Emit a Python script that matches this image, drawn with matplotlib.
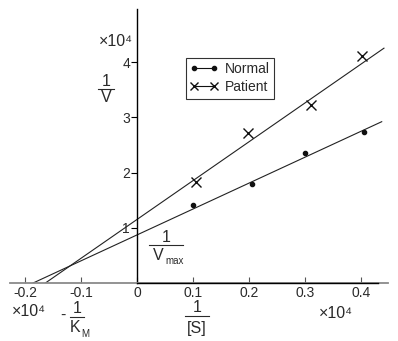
"""Lineweaver-Burk plot: 1/V against 1/[S] for normal and patient samples."""

import matplotlib
matplotlib.use("Agg")
import matplotlib.pyplot as plt
import numpy as np
from matplotlib.lines import Line2D

# data, in units of 1e4
inv_s_normal = [0.100, 0.205, 0.300, 0.405]
inv_v_normal = [1.41, 1.79, 2.35, 2.73]
inv_s_patient = [0.105, 0.198, 0.310, 0.401]
inv_v_patient = [1.82, 2.71, 3.23, 4.11]

# fitted lines: (intercept, slope)
fit_normal = (0.87, 4.69)
fit_patient = (1.15, 7.03)
fit_x_end = [0.437, 0.441]

x_ticks = [-0.2, -0.1, 0, 0.1, 0.2, 0.3, 0.4]
x_ticklabels = ["-0.2", "-0.1", "0", "0.1", "0.2", "0.3", "0.4"]
y_ticks = [1, 2, 3, 4]
y_ticklabels = ["1", "2", "3", "4"]

W, H = 398, 341
TXT = "#2a2a2a"
plt.rcParams["font.family"] = ["Liberation Sans", "DejaVu Sans"]


def fx(px):
    return px / W


def fy(py):
    return 1 - py / H


fig = plt.figure(figsize=(W / 100, H / 100), dpi=100)
# axis origin at pixel (137, 283), 560 px per 1 in x, 55.25 px per 1 in y
x0px, y0px, sx, sy = 137.0, 283.0, 560.0, 55.25
left_px, right_px, top_px = 10.0, 388.0, 9.0
ax = fig.add_axes([fx(left_px), fy(y0px), (right_px - left_px) / W, (y0px - top_px) / H])
ax.set_xlim((left_px - x0px) / sx, (right_px - x0px) / sx)
ax.set_ylim(0, (y0px - top_px) / sy)
ax.patch.set_visible(False)

for side in ("top", "right"):
    ax.spines[side].set_visible(False)
ax.spines["left"].set_position(("data", 0))
ax.spines["left"].set_color("black")
ax.spines["left"].set_linewidth(1.0)
ax.spines["bottom"].set_color("#8a8a8a")
ax.spines["bottom"].set_linewidth(1.3)
# darker part of the x axis over the positive range
xl = ax.get_xlim()
ax.axhline(0, xmin=(0 - xl[0]) / (xl[1] - xl[0]), xmax=(0.43 - xl[0]) / (xl[1] - xl[0]),
           color="black", lw=1.0, clip_on=False, zorder=3)

ax.set_xticks(x_ticks)
ax.set_xticklabels(x_ticklabels)
ax.set_yticks(y_ticks)
ax.set_yticklabels(y_ticklabels)
ax.tick_params(axis="x", direction="in", length=4, width=0.8, pad=2.5,
               labelsize=10, labelcolor=TXT, color="#555555")
ax.tick_params(axis="y", direction="out", length=4, width=0.8, pad=1,
               labelsize=10, labelcolor=TXT)

# regression lines from the x intercept to the right end
for (b, m), xe in zip([fit_normal, fit_patient], fit_x_end):
    xs = np.array([-b / m, xe])
    ax.plot(xs, b + m * xs, color="#222222", lw=0.8, zorder=2)

ax.plot(inv_s_normal, inv_v_normal, linestyle="none", marker="o", ms=3,
        color="#111111", zorder=4)
ax.plot(inv_s_patient, inv_v_patient, linestyle="none", marker="x", ms=6.5,
        mew=1.0, color="#111111", zorder=4)

handles = [
    Line2D([], [], color="#111111", lw=0.8, marker="o", ms=3),
    Line2D([], [], color="#111111", lw=0.8, marker="x", ms=5.5, mew=1.0),
]
leg = fig.legend(handles, ["Normal", "Patient"], loc="upper left",
                 bbox_to_anchor=(fx(186), fy(58)), bbox_transform=fig.transFigure,
                 borderaxespad=0, numpoints=2, handlelength=2.0, handletextpad=0.5,
                 fontsize=10, frameon=True, fancybox=False, borderpad=0.3,
                 labelspacing=0.3)
leg.get_frame().set_edgecolor("black")
leg.get_frame().set_linewidth(0.8)
for t in leg.get_texts():
    t.set_color(TXT)


def frac(xc, ybar, half, num, den, fs=11.5, dy=8.0, dd=9.0):
    fig.text(fx(xc), fy(ybar - dy), num, ha="center", va="center", fontsize=fs, color=TXT)
    fig.add_artist(Line2D([fx(xc - half), fx(xc + half)], [fy(ybar), fy(ybar)],
                          transform=fig.transFigure, color=TXT, lw=0.8))
    if den is not None:
        fig.text(fx(xc), fy(ybar + dd), den, ha="center", va="center",
                 fontsize=fs, color=TXT)


# 1/V on the y axis
frac(106, 89, 8, "1", "V")
# 1/Vmax at the y intercept
frac(166, 245, 17, "1", None)
fig.text(fx(158), fy(255), "V", ha="center", va="center", fontsize=11.5, color=TXT)
fig.text(fx(165), fy(261), "max", ha="left", va="center", fontsize=7, color=TXT)
# -1/KM
fig.text(fx(63), fy(315), "-", ha="center", va="center", fontsize=11.5, color=TXT)
frac(77, 317, 7, "1", None, dy=8.5)
fig.text(fx(75), fy(328), "K", ha="center", va="center", fontsize=11.5, color=TXT)
fig.text(fx(81), fy(334), "M", ha="left", va="center", fontsize=7, color=TXT)
# 1/[S]
frac(197, 316, 12, "1", "[S]", dy=8, dd=12)

# axis multipliers
fig.text(fx(99), fy(41), "×10⁴", ha="left", va="center", fontsize=11.5, color=TXT)
fig.text(fx(12), fy(312), "×10⁴", ha="left", va="center", fontsize=11.5, color=TXT)
fig.text(fx(319), fy(314), "×10⁴", ha="left", va="center", fontsize=11.5, color=TXT)

fig.savefig("out.png", dpi=100, facecolor="white")
